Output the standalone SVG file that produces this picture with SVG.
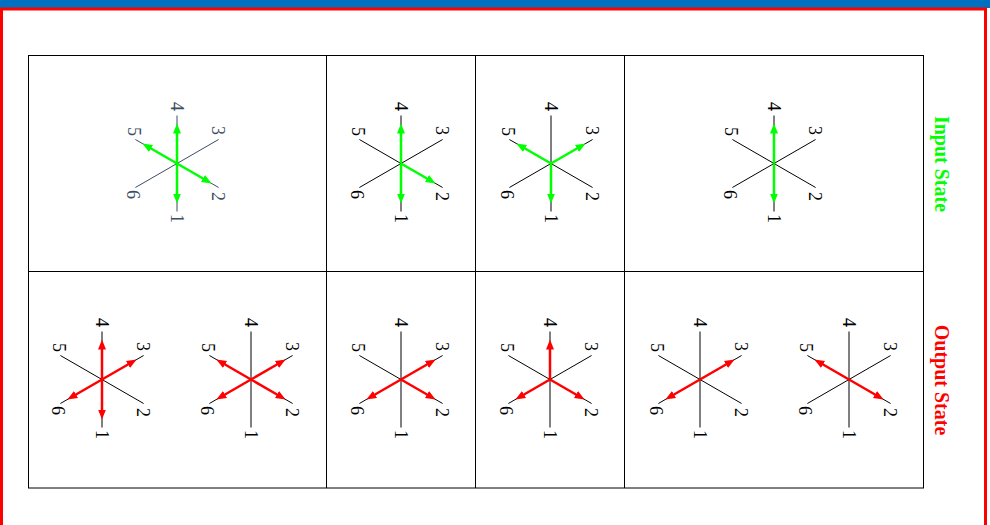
<svg xmlns="http://www.w3.org/2000/svg" xmlns:xlink="http://www.w3.org/1999/xlink" width="990" height="525" viewBox="0 0 990 525">
<style>
.grid{fill:none;stroke:#000;stroke-width:1}
.axis{stroke:currentColor;stroke-width:1;fill:none}
.lbl{font-family:"Liberation Serif","Times New Roman",serif;font-size:18px;fill:currentColor;text-anchor:middle}
.g{stroke:#00ff00;stroke-width:2.5;marker-end:url(#mg)}
.r{stroke:#ff0000;stroke-width:2.5;marker-end:url(#mr)}
.title{font-family:"Liberation Serif","Times New Roman",serif;font-size:20px;font-weight:bold;text-anchor:middle}
.blk{color:#000}
.slate{color:#3b4d63}
</style>
<defs>
<marker id="mg" markerUnits="userSpaceOnUse" markerWidth="12" markerHeight="10" refX="1" refY="4" orient="auto" viewBox="0 0 12 8">
<path d="M0,0 L10,4 L0,8 z" fill="#00ff00"/>
</marker>
<marker id="mr" markerUnits="userSpaceOnUse" markerWidth="12" markerHeight="10" refX="1" refY="4" orient="auto" viewBox="0 0 12 8">
<path d="M0,0 L10,4 L0,8 z" fill="#ff0000"/>
</marker>
<g id="star">
<path class="axis" d="M0,-48 V48 M-41.6,-24 L41.6,24 M-41.6,24 L41.6,-24"/>
<text class="lbl" transform="translate(-6,-57) rotate(90)">4</text>
<text class="lbl" transform="translate(-6,55) rotate(90)">1</text>
<text class="lbl" transform="translate(-49,-32) rotate(90)">5</text>
<text class="lbl" transform="translate(35,-33) rotate(90)">3</text>
<text class="lbl" transform="translate(-50,31) rotate(90)">6</text>
<text class="lbl" transform="translate(35,33) rotate(90)">2</text>
</g>
<line id="d1" x1="0" y1="0" x2="0" y2="31"/>
<line id="d2" x1="0" y1="0" x2="26.85" y2="15.5"/>
<line id="d3" x1="0" y1="0" x2="26.85" y2="-15.5"/>
<line id="d4" x1="0" y1="0" x2="0" y2="-31"/>
<line id="d5" x1="0" y1="0" x2="-26.85" y2="-15.5"/>
<line id="d6" x1="0" y1="0" x2="-26.85" y2="15.5"/>
</defs>
<rect x="0" y="0" width="990" height="8" fill="#0070c0"/>
<rect x="1.5" y="9" width="984" height="530" fill="none" stroke="#ff0000" stroke-width="3"/>
<g id="grid">
<rect class="grid" x="28.5" y="55.5" width="895" height="432.5"/>
<path class="grid" d="M28.5,271.5 H923.5 M326.5,55.5 V488 M475.5,55.5 V488 M624.5,55.5 V488"/>
</g>
<g id="in1" class="slate" transform="translate(177,163.5)">
<use xlink:href="#star"/>
<use xlink:href="#d4" class="g"/><use xlink:href="#d1" class="g"/><use xlink:href="#d5" class="g"/><use xlink:href="#d2" class="g"/>
</g>
<g id="in2" class="blk" transform="translate(401,163.5)">
<use xlink:href="#star"/>
<use xlink:href="#d4" class="g"/><use xlink:href="#d1" class="g"/><use xlink:href="#d2" class="g"/>
</g>
<g id="in3" class="blk" transform="translate(551,163.5)">
<use xlink:href="#star"/>
<use xlink:href="#d5" class="g"/><use xlink:href="#d3" class="g"/><use xlink:href="#d1" class="g"/>
</g>
<g id="in4" class="blk" transform="translate(774,163.5)">
<use xlink:href="#star"/>
<use xlink:href="#d4" class="g"/><use xlink:href="#d1" class="g"/>
</g>
<g id="out1" class="blk" transform="translate(102,379.5)">
<use xlink:href="#star"/>
<use xlink:href="#d4" class="r"/><use xlink:href="#d1" class="r"/><use xlink:href="#d3" class="r"/><use xlink:href="#d6" class="r"/>
</g>
<g id="out2" class="blk" transform="translate(251,379.5)">
<use xlink:href="#star"/>
<use xlink:href="#d5" class="r"/><use xlink:href="#d3" class="r"/><use xlink:href="#d6" class="r"/><use xlink:href="#d2" class="r"/>
</g>
<g id="out3" class="blk" transform="translate(401,379.5)">
<use xlink:href="#star"/>
<use xlink:href="#d3" class="r"/><use xlink:href="#d6" class="r"/><use xlink:href="#d2" class="r"/>
</g>
<g id="out4" class="blk" transform="translate(550,379.5)">
<use xlink:href="#star"/>
<use xlink:href="#d4" class="r"/><use xlink:href="#d6" class="r"/><use xlink:href="#d2" class="r"/>
</g>
<g id="out5" class="blk" transform="translate(700,379.5)">
<use xlink:href="#star"/>
<use xlink:href="#d3" class="r"/><use xlink:href="#d6" class="r"/>
</g>
<g id="out6" class="blk" transform="translate(849,379.5)">
<use xlink:href="#star"/>
<use xlink:href="#d5" class="r"/><use xlink:href="#d2" class="r"/>
</g>
<g id="labels">
<text class="title" fill="#00ff00" transform="translate(934.5,164) rotate(90)">Input State</text>
<text class="title" fill="#ff0000" transform="translate(934.5,380) rotate(90)">Output State</text>
</g>
</svg>
